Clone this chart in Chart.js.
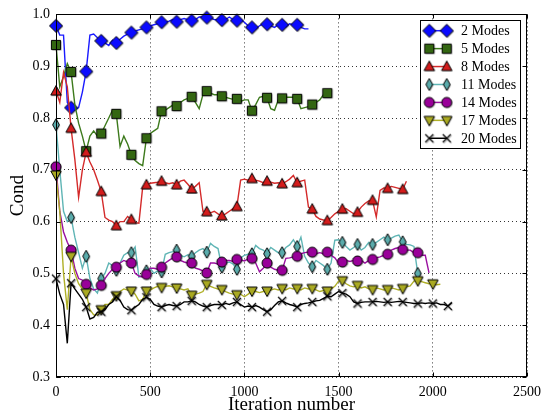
<!DOCTYPE html>
<html><head><meta charset="utf-8">
<script src="https://cdn.jsdelivr.net/npm/chart.js@4/dist/chart.umd.min.js"></script>
<style>html,body{margin:0;padding:0;background:#fff}</style>
</head><body>
<canvas id="c" width="551" height="418" style="display:block;width:551px;height:418px"></canvas>
<script>
// ---------------- data ----------------
const iterStep = 20;      // iterations between samples
const markerEvery = 4;    // one marker every 80 iterations
const seriesNames = ['2 Modes','5 Modes','8 Modes','11 Modes','14 Modes','17 Modes','20 Modes'];
const xTickValues = [0, 500, 1000, 1500, 2000, 2500];
const yTickValues = [0.3, 0.4, 0.5, 0.6, 0.7, 0.8, 0.9, 1.0];

const modes2 = [0.978,0.96,0.96,0.83, 0.82,0.815,0.82,0.85, 0.89,0.96,0.962,0.955, 0.949,0.945,0.94,0.95,
  0.945,0.952,0.958,0.962, 0.965,0.968,0.97,0.972, 0.975,0.978,0.98,0.982, 0.985,0.985,0.987,0.99,
  0.986,0.99,0.992,0.99, 0.988,0.99,0.995,0.995, 0.994,0.993,0.99,0.99, 0.989,0.99,0.995,0.99,
  0.988,0.99,0.985,0.978, 0.975,0.972,0.978,0.982, 0.981,0.978,0.975,0.98, 0.98,0.976,0.982,0.98,
  0.98,0.975,0.972,0.972];
const modes5 = [0.941,0.86,0.88,0.905, 0.889,0.826,0.79,0.765, 0.736,0.765,0.775,0.765, 0.770,0.785,0.80,0.815,
  0.808,0.745,0.765,0.75, 0.729,0.718,0.712,0.708, 0.761,0.77,0.775,0.78, 0.813,0.815,0.82,0.825,
  0.823,0.83,0.835,0.838, 0.841,0.83,0.818,0.845, 0.852,0.848,0.845,0.845, 0.842,0.84,0.838,0.836,
  0.837,0.832,0.835,0.835, 0.814,0.826,0.84,0.842, 0.839,0.818,0.815,0.835, 0.838,0.84,0.84,0.84,
  0.837,0.818,0.82,0.822, 0.826,0.83,0.835,0.845, 0.848];
const modes8 = [0.852,0.83,0.888,0.86, 0.78,0.72,0.647,0.70, 0.734,0.715,0.70,0.68, 0.658,0.608,0.603,0.60,
  0.592,0.600,0.60,0.61, 0.604,0.598,0.597,0.666, 0.671,0.674,0.675,0.676, 0.678,0.675,0.673,0.675,
  0.671,0.678,0.68,0.672, 0.663,0.668,0.675,0.62, 0.619,0.617,0.62,0.615, 0.611,0.615,0.62,0.625,
  0.629,0.68,0.682,0.68, 0.683,0.68,0.678,0.675, 0.678,0.676,0.674,0.675, 0.673,0.677,0.682,0.689,
  0.675,0.678,0.68,0.628, 0.624,0.61,0.605,0.603, 0.602,0.608,0.615,0.62, 0.624,0.625,0.62,0.615,
  0.618,0.628,0.635,0.64, 0.641,0.609,0.66,0.665, 0.664,0.668,0.666,0.664, 0.662,0.678];
const modes11 = [0.787,0.70,0.62,0.60, 0.608,0.57,0.54,0.51, 0.533,0.49,0.47,0.462, 0.49,0.50,0.52,0.515,
  0.506,0.52,0.535,0.54, 0.540,0.551,0.493,0.495, 0.505,0.51,0.50,0.505, 0.503,0.537,0.54,0.542,
  0.545,0.535,0.532,0.536, 0.533,0.54,0.545,0.548, 0.541,0.558,0.552,0.548, 0.512,0.52,0.522,0.518,
  0.508,0.53,0.535,0.537, 0.538,0.554,0.548,0.545, 0.538,0.55,0.545,0.54, 0.540,0.55,0.555,0.565,
  0.552,0.570,0.533,0.52, 0.513,0.525,0.52,0.515, 0.508,0.52,0.564,0.565, 0.560,0.552,0.545,0.55,
  0.556,0.545,0.55,0.56, 0.556,0.56,0.565,0.57, 0.565,0.568,0.572,0.574, 0.561,0.556,0.555,0.552,
  0.500];
const modes14 = [0.706,0.62,0.58,0.56, 0.545,0.51,0.49,0.487, 0.479,0.472,0.468,0.47, 0.477,0.49,0.50,0.508,
  0.512,0.52,0.525,0.522, 0.520,0.50,0.495,0.493, 0.498,0.51,0.51,0.508, 0.512,0.52,0.525,0.53,
  0.532,0.525,0.522,0.52, 0.520,0.51,0.508,0.505, 0.501,0.52,0.52,0.518, 0.522,0.525,0.525,0.523,
  0.527,0.526,0.524,0.528, 0.529,0.52,0.503,0.51, 0.520,0.512,0.508,0.506, 0.506,0.529,0.53,0.532,
  0.533,0.538,0.54,0.541, 0.541,0.538,0.54,0.538, 0.541,0.535,0.53,0.52, 0.522,0.525,0.523,0.525,
  0.524,0.525,0.52,0.525, 0.527,0.53,0.532,0.535, 0.537,0.545,0.548,0.55, 0.546,0.545,0.545,0.54,
  0.540,0.535,0.535,0.501];
const modes17 = [0.69,0.62,0.50,0.43, 0.533,0.50,0.48,0.47, 0.462,0.43,0.42,0.42, 0.43,0.44,0.44,0.45,
  0.457,0.465,0.47,0.468, 0.466,0.46,0.447,0.45, 0.466,0.468,0.472,0.475, 0.473,0.475,0.476,0.474,
  0.472,0.47,0.468,0.47, 0.458,0.46,0.462,0.465, 0.479,0.475,0.472,0.47, 0.469,0.465,0.462,0.46,
  0.459,0.46,0.455,0.46, 0.466,0.465,0.463,0.465, 0.466,0.468,0.47,0.468, 0.471,0.468,0.472,0.47,
  0.471,0.468,0.472,0.47, 0.471,0.468,0.465,0.467, 0.466,0.47,0.475,0.485, 0.486,0.48,0.476,0.474,
  0.477,0.472,0.474,0.47, 0.469,0.472,0.47,0.468, 0.469,0.472,0.47,0.468, 0.471,0.474,0.476,0.485,
  0.486,0.484,0.482,0.48, 0.480,0.478,0.479];
const modes20 = [0.49,0.46,0.44,0.365, 0.481,0.47,0.46,0.45, 0.435,0.412,0.415,0.425, 0.426,0.43,0.44,0.445,
  0.455,0.448,0.435,0.43, 0.429,0.435,0.44,0.45, 0.454,0.45,0.44,0.437, 0.435,0.438,0.44,0.438,
  0.437,0.44,0.445,0.445, 0.447,0.445,0.44,0.437, 0.435,0.438,0.44,0.44, 0.439,0.442,0.44,0.443,
  0.445,0.44,0.435,0.437, 0.435,0.438,0.435,0.43, 0.426,0.43,0.438,0.445, 0.447,0.443,0.44,0.438,
  0.435,0.44,0.442,0.443, 0.445,0.447,0.448,0.452, 0.456,0.455,0.46,0.465, 0.462,0.46,0.455,0.445,
  0.442,0.444,0.445,0.445, 0.445,0.446,0.445,0.444, 0.445,0.444,0.445,0.446, 0.445,0.444,0.443,0.442,
  0.442,0.443,0.442,0.443, 0.442,0.443,0.44,0.44, 0.437,0.443];

const seriesValues = [modes2, modes5, modes8, modes11, modes14, modes17, modes20];

// ---------------- styles ----------------
const lineColors   = ['#1a1aff','#3d7a1c','#d42a2a','#5fb5b5','#9a10a0','#b0b028','#000000'];
const markerFills  = ['#0a0aff','#336611','#d41c1c','#5aabab','#990099','#aaaa22','#000000'];
const markerKinds  = ['diamond','square','triUp','thinDiamond','circle','triDown','x'];
const SERIF = '"Liberation Serif","DejaVu Serif",serif';

function makeMarker(kind, fill) {
  const S = 18, c = document.createElement('canvas');
  c.width = S; c.height = S;
  const g = c.getContext('2d');
  const m = S / 2;
  function path(ox, oy) {
    const cx = m + ox, cy = m + oy;
    g.beginPath();
    if (kind === 'diamond') { const r = 6.5; g.moveTo(cx, cy - r); g.lineTo(cx + r, cy); g.lineTo(cx, cy + r); g.lineTo(cx - r, cy); g.closePath(); }
    else if (kind === 'square') { const h = 4.6; g.rect(cx - h, cy - h, 2 * h, 2 * h); }
    else if (kind === 'triUp') { g.moveTo(cx, cy - 5.5); g.lineTo(cx + 5.2, cy + 4); g.lineTo(cx - 5.2, cy + 4); g.closePath(); }
    else if (kind === 'thinDiamond') { g.moveTo(cx, cy - 6); g.lineTo(cx + 3.4, cy); g.lineTo(cx, cy + 6); g.lineTo(cx - 3.4, cy); g.closePath(); }
    else if (kind === 'circle') { g.arc(cx, cy, 5, 0, Math.PI * 2); g.closePath(); }
    else if (kind === 'triDown') { g.moveTo(cx - 5.2, cy - 4); g.lineTo(cx + 5.2, cy - 4); g.lineTo(cx, cy + 5.5); g.closePath(); }
    else if (kind === 'x') { const r = 4; g.moveTo(cx - r, cy - r); g.lineTo(cx + r, cy + r); g.moveTo(cx + r, cy - r); g.lineTo(cx - r, cy + r); }
  }
  if (kind === 'x') {
    g.lineWidth = 1.2;
    g.strokeStyle = 'rgba(0,0,0,0.25)'; path(1, 1); g.stroke();
    g.strokeStyle = '#000'; path(0, 0); g.stroke();
  } else {
    g.fillStyle = 'rgba(0,0,0,0.28)'; path(1, 1); g.fill();
    g.fillStyle = fill; path(0, 0); g.fill();
    g.lineWidth = 1; g.strokeStyle = '#000'; g.stroke();
  }
  return c;
}
const markers = markerKinds.map((k, i) => makeMarker(k, markerFills[i]));

const datasets = seriesValues.map((vals, i) => ({
  label: seriesNames[i],
  data: vals.map((v, k) => ({ x: k * iterStep, y: v })),
  borderColor: lineColors[i],
  backgroundColor: markerFills[i],
  borderWidth: 1.4,
  tension: 0,
  fill: false,
  pointStyle: markers[i],
  pointRadius: ctx => (ctx.dataIndex % markerEvery === 0 ? 5 : 0),
  pointHoverRadius: 0,
  order: seriesValues.length - i,
  clip: false
}));

const framePlugin = {
  id: 'frame',
  afterDatasetsDraw(chart) {
    const { ctx, chartArea: a, scales } = chart;
    ctx.save();
    ctx.strokeStyle = '#000'; ctx.lineWidth = 1;
    const L = Math.round(a.left) + 0.5, R = Math.round(a.right) - 0.5, T = Math.round(a.top) + 0.5, B = Math.round(a.bottom) - 0.5;
    ctx.strokeRect(L, T, R - L, B - T);
    ctx.beginPath();
    xTickValues.forEach(v => {
      const x = Math.round(scales.x.getPixelForValue(v)) + 0.5;
      ctx.moveTo(x, B); ctx.lineTo(x, B - 4);
      ctx.moveTo(x, T); ctx.lineTo(x, T + 4);
    });
    yTickValues.forEach(v => {
      const y = Math.round(scales.y.getPixelForValue(v)) + 0.5;
      ctx.moveTo(L, y); ctx.lineTo(L + 4, y);
      ctx.moveTo(R, y); ctx.lineTo(R - 4, y);
    });
    ctx.stroke();
    ctx.restore();
  }
};

const legendPlugin = {
  id: 'mplLegend',
  afterDraw(chart) {
    const ctx = chart.ctx;
    ctx.save();
    const bx = 420.5, by = 20.5, bw = 100, bh = 128;
    ctx.fillStyle = '#fff'; ctx.fillRect(bx, by, bw, bh);
    ctx.strokeStyle = '#000'; ctx.lineWidth = 1; ctx.strokeRect(bx, by, bw, bh);
    ctx.font = '14px ' + SERIF;
    ctx.textBaseline = 'middle';
    seriesNames.forEach((name, i) => {
      const y = 30.7 + i * 17.93;
      const x1 = 429.3, x2 = 446.7;
      ctx.strokeStyle = lineColors[i]; ctx.lineWidth = 1.5;
      ctx.beginPath(); ctx.moveTo(x1, y); ctx.lineTo(x2, y); ctx.stroke();
      const mk = markers[i];
      ctx.drawImage(mk, x1 - mk.width / 2, y - mk.height / 2);
      ctx.drawImage(mk, x2 - mk.width / 2, y - mk.height / 2);
      ctx.fillStyle = '#000';
      ctx.fillText(name, 461, y + 1);
    });
    ctx.restore();
  }
};

new Chart(document.getElementById('c'), {
  type: 'line',
  data: { datasets },
  options: {
    responsive: false,
    animation: false,
    events: [],
    layout: { padding: { left: 0, right: 24, top: 14, bottom: 0 } },
    plugins: { legend: { display: false }, tooltip: { enabled: false } },
    scales: {
      x: {
        type: 'linear', min: 0, max: 2500,
        afterBuildTicks: s => { s.ticks = xTickValues.map(v => ({ value: v })); },
        afterFit: s => { s.height = 41; },
        ticks: { color: '#000', font: { family: SERIF, size: 14 }, padding: 7, maxRotation: 0, autoSkip: false, callback: v => String(v) },
        grid: { color: 'rgba(0,0,0,0.8)', lineWidth: 1, drawTicks: false },
        border: { display: false, dash: [1, 3] },
        title: { display: true, text: 'Iteration number', color: '#000', font: { family: SERIF, size: 19 }, padding: { top: 0, bottom: 2 } }
      },
      y: {
        type: 'linear', min: 0.3, max: 1.0,
        afterBuildTicks: s => { s.ticks = yTickValues.map(v => ({ value: v })); },
        afterFit: s => { s.width = 56; },
        ticks: { color: '#000', font: { family: SERIF, size: 14 }, padding: 6, autoSkip: false, callback: v => Number(v).toFixed(1) },
        grid: { color: 'rgba(0,0,0,0.8)', lineWidth: 1, drawTicks: false },
        border: { display: false, dash: [1, 3] },
        title: { display: true, text: 'Cond', color: '#000', font: { family: SERIF, size: 19 }, padding: { top: 7, bottom: 0 } }
      }
    }
  },
  plugins: [framePlugin, legendPlugin]
});
</script>
</body></html>
